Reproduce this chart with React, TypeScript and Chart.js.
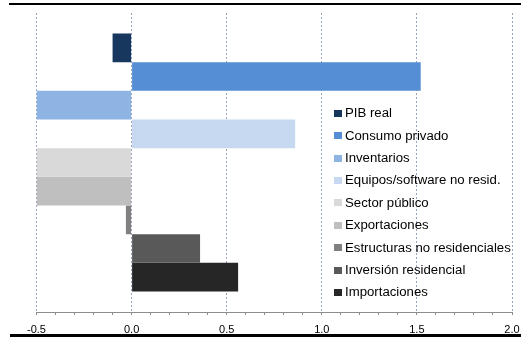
import React, { useEffect, useRef } from "react";
import { Chart, registerables } from "chart.js";

Chart.register(...registerables);

const seriesNames = [
  "PIB real",
  "Consumo privado",
  "Inventarios",
  "Equipos/software no resid.",
  "Sector público",
  "Exportaciones",
  "Estructuras no residenciales",
  "Inversión residencial",
  "Importaciones",
];
const seriesValues = [-0.1, 1.52, -0.5, 0.86, -0.5, -0.5, -0.03, 0.36, 0.56];
const seriesColors = [
  "#17375E",
  "#558ED5",
  "#8EB4E3",
  "#C6D9F1",
  "#D9D9D9",
  "#BFBFBF",
  "#808080",
  "#595959",
  "#262626",
];
const xMin = -0.5;
const xMax = 2.0;
const xMinorStep = 0.1;
const xMajorStep = 0.5;

const FONT = "'Liberation Sans', Arial, sans-serif";

const isMajor = (v: any) => {
  if (typeof v !== "number") return false;
  const r = v / xMajorStep;
  return Math.abs(r - Math.round(r)) < 1e-6;
};

const insideLegend = {
  id: "insideLegend",
  afterDraw(chart: any) {
    const ctx = chart.ctx;
    ctx.save();
    chart.data.datasets.forEach((ds: any, i: number) => {
      const cy = 113.3 + i * 22.42;
      ctx.fillStyle = ds.backgroundColor;
      ctx.fillRect(334, Math.round(cy - 3.5), 8, 7);
      ctx.save();
      ctx.translate(345, cy);
      ctx.scale(1.1, 1);
      ctx.fillStyle = "#000";
      ctx.font = "12px " + FONT;
      ctx.textBaseline = "middle";
      ctx.textAlign = "left";
      ctx.fillText(ds.label, 0, 0.5);
      ctx.restore();
    });
    ctx.fillStyle = "#000";
    ctx.fillRect(9, 3, 512, 2);
    ctx.fillRect(10, 334, 511, 3);
    ctx.restore();
  },
};

export default function App() {
  const ref = useRef<HTMLCanvasElement | null>(null);

  useEffect(() => {
    if (!ref.current) return;
    Chart.defaults.font.family = FONT;
    const chart = new Chart(ref.current, {
      type: "bar",
      data: {
        labels: [""],
        datasets: seriesNames.map((name, i) => ({
          label: name,
          data: [seriesValues[i]],
          backgroundColor: seriesColors[i],
          borderWidth: 0,
          categoryPercentage: 0.863,
          barPercentage: 1,
        })),
      },
      options: {
        indexAxis: "y",
        responsive: false,
        animation: false,
        layout: { padding: { top: 13, left: 36.5, right: 9, bottom: 0 } },
        plugins: {
          legend: { display: false },
          tooltip: { enabled: false },
        },
        scales: {
          x: {
            type: "linear",
            min: xMin,
            max: xMax,
            afterFit: (scale: any) => {
              scale.height = 26;
              scale.paddingLeft = 0;
              scale.paddingRight = 0;
            },
            ticks: {
              stepSize: xMinorStep,
              autoSkip: false,
              maxRotation: 0,
              minRotation: 0,
              padding: 8,
              color: "#000",
              font: { size: 11, family: FONT },
              callback: (v: any) => (isMajor(Number(v)) ? Number(v).toFixed(1) : ""),
            },
            grid: {
              color: (c: any) => (c.tick && isMajor(c.tick.value) ? "#98A6BA" : "rgba(0,0,0,0)"),
              tickColor: "#8C8C8C",
              tickLength: 3,
              lineWidth: 1,
            },
            border: { display: true, color: "#8C8C8C", width: 1, dash: [2, 2] },
          },
          y: {
            type: "category",
            display: false,
          },
        },
      },
      plugins: [insideLegend],
    } as any);
    return () => chart.destroy();
  }, []);

  return (
    <div style={{ position: "fixed", left: 0, top: 0, width: 521, height: 338, background: "#fff" }}>
      <canvas ref={ref} width={521} height={338} style={{ display: "block" }} />
    </div>
  );
}
